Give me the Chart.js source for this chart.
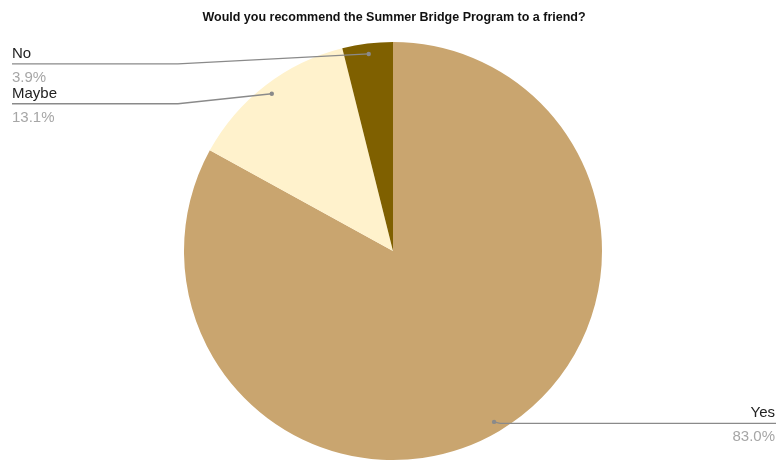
<!DOCTYPE html>
<html>
<head>
<meta charset="utf-8">
<script src="https://cdn.jsdelivr.net/npm/chart.js@4"></script>
<style>
  body { margin: 0; background: #fff; }
  #wrap { width: 776px; height: 462px; position: relative; }
</style>
</head>
<body>
<div id="wrap"><canvas id="pieChart"></canvas></div>
<script>
// chart data
var answerLabels = ['Yes', 'Maybe', 'No'];
var answerValues = [83.0, 13.1, 3.9];
var sliceColors = ['#c9a56f', '#fff2cc', '#7f6000'];
var chartTitle = 'Would you recommend the Summer Bridge Program to a friend?';

//draws title and the leader line labels
var labelPlugin = {
    id: 'leaderLabels',
    afterDraw: function(chart) {
        var ctx = chart.ctx;
        var w = chart.width;
        var total = answerValues.reduce(function(a, b) { return a + b; }, 0);

        ctx.save();
        ctx.fillStyle = '#111';
        ctx.font = 'bold 12.5px "Liberation Sans", Arial, sans-serif';
        ctx.textAlign = 'center';
        ctx.textBaseline = 'alphabetic';
        ctx.fillText(chartTitle, 394, 21);

        var arcs = chart.getDatasetMeta(0).data;
        arcs.forEach(function(arc, i) {
            var mid = (arc.startAngle + arc.endAngle) / 2;
            var r = arc.outerRadius * 0.95;
            var dx = arc.x + Math.cos(mid) * r;
            var dy = arc.y + Math.sin(mid) * r;
            var pct = (answerValues[i] / total * 100).toFixed(1) + '%';
            var left = dx < arc.x;
            var lineY = left ? dy + 10 : dy + 1.5;

            ctx.strokeStyle = '#8a8a8a';
            ctx.lineWidth = 1.3;
            ctx.beginPath();
            ctx.moveTo(dx, dy);
            if (left) {
                ctx.lineTo(178, lineY);
                ctx.lineTo(12, lineY);
            } else {
                ctx.lineTo(dx + 6, lineY);
                ctx.lineTo(w, lineY);
            }
            ctx.stroke();

            ctx.fillStyle = '#8a8a8a';
            ctx.beginPath();
            ctx.arc(dx, dy, 2.2, 0, Math.PI * 2);
            ctx.fill();

            ctx.font = '15px "Liberation Sans", Arial, sans-serif';
            ctx.textAlign = left ? 'left' : 'right';
            var tx = left ? 12 : w - 1;
            ctx.fillStyle = '#222';
            ctx.fillText(answerLabels[i], tx, lineY - 6);
            ctx.fillStyle = '#a6a6a6';
            ctx.fillText(pct, tx, lineY + 18);
        });
        ctx.restore();
    }
};

var ctx = document.getElementById('pieChart').getContext('2d');
var chart = new Chart(ctx, {
    type: 'pie',
    data: {
        labels: answerLabels,
        datasets: [{
            data: answerValues,
            backgroundColor: sliceColors,
            borderWidth: 0
        }]
    },
    options: {
        responsive: true,
        maintainAspectRatio: false,
        animation: false,
        layout: {
            padding: { top: 42, bottom: 2, left: 10, right: 0 }
        },
        plugins: {
            legend: { display: false },
            title: { display: false },
            tooltip: { enabled: false }
        }
    },
    plugins: [labelPlugin]
});
</script>
</body>
</html>
